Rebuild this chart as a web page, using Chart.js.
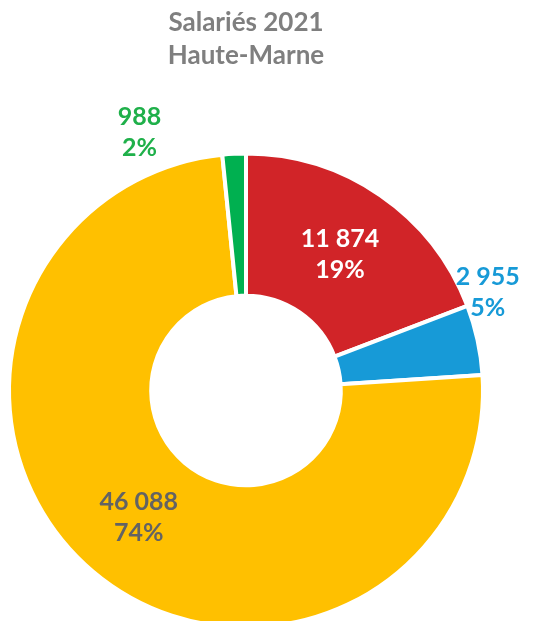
<!DOCTYPE html>
<html>
<head>
<meta charset="utf-8">
<script src="https://cdn.jsdelivr.net/npm/chart.js@4/dist/chart.umd.min.js"></script>
<style>
  html, body { margin: 0; padding: 0; background: #fff; overflow: hidden; width: 545px; height: 621px; }
  #wrap { position: absolute; left: 0; top: 0; width: 545px; height: 720px; }
</style>
</head>
<body>
<div id="wrap"><canvas id="salaries"></canvas></div>
<script>
// Salariés 2021 - Haute-Marne
const categories = ['Segment 1', 'Segment 2', 'Segment 3', 'Segment 4'];
const salaries = [11874, 2955, 46088, 988];
const sliceColors = ['#D12428', '#179AD7', '#FFC000', '#00B050'];
const labelColors = ['#FFFFFF', '#179AD7', '#636363', '#1FB04A'];
const titleLines = ['Salariés 2021', 'Haute-Marne'];

const FONT = 'Lato, "Open Sans", sans-serif';

// where each value label goes: inside the ring, or just outside it
const labelPlacement = [
    { inside: true },
    { inside: false, extra: 24, shift: -9.8 },
    { inside: true },
    { inside: false, extra: 43, shift: -19.5 }
];

const fmt = (v) => String(v).replace(/\B(?=(\d{3})+(?!\d))/g, ' ');

const valueLabels = {
    id: 'valueLabels',
    afterDatasetsDraw(chart) {
        const ctx = chart.ctx;
        const meta = chart.getDatasetMeta(0);
        const values = chart.data.datasets[0].data;
        const total = values.reduce((a, b) => a + b, 0);
        ctx.save();
        ctx.font = 'bold 25px ' + FONT;
        ctx.textAlign = 'center';
        ctx.textBaseline = 'middle';
        meta.data.forEach((arc, i) => {
            const p = labelPlacement[i];
            let x, y;
            if (p.inside) {
                const pos = arc.tooltipPosition();
                x = pos.x; y = pos.y;
            } else {
                const a = (arc.startAngle + arc.endAngle) / 2 + p.shift * Math.PI / 180;
                const r = arc.outerRadius + p.extra;
                x = arc.x + Math.cos(a) * r;
                y = arc.y + Math.sin(a) * r;
            }
            const pct = Math.round(values[i] / total * 100) + '%';
            ctx.fillStyle = labelColors[i];
            ctx.fillText(fmt(values[i]), x, y - 15);
            ctx.fillText(pct, x, y + 16);
        });
        ctx.restore();
    }
};

const ctx = document.getElementById('salaries');
new Chart(ctx, {
    type: 'doughnut',
    data: {
        labels: categories,
        datasets: [{
            data: salaries,
            backgroundColor: sliceColors,
            borderColor: '#FFFFFF',
            borderWidth: 4,
            hoverOffset: 0
        }]
    },
    options: {
        responsive: true,
        maintainAspectRatio: false,
        animation: false,
        devicePixelRatio: 1,
        cutout: '40%',
        layout: {
            padding: { left: 7, right: 60, top: 0, bottom: 20 }
        },
        plugins: {
            legend: { display: false },
            tooltip: { enabled: false },
            title: {
                display: true,
                text: titleLines,
                color: '#7F7F7F',
                font: { family: FONT, size: 26, weight: 'bold', lineHeight: 1.27 },
                padding: { top: 6, bottom: 9 }
            }
        }
    },
    plugins: [valueLabels]
});
</script>
</body>
</html>
